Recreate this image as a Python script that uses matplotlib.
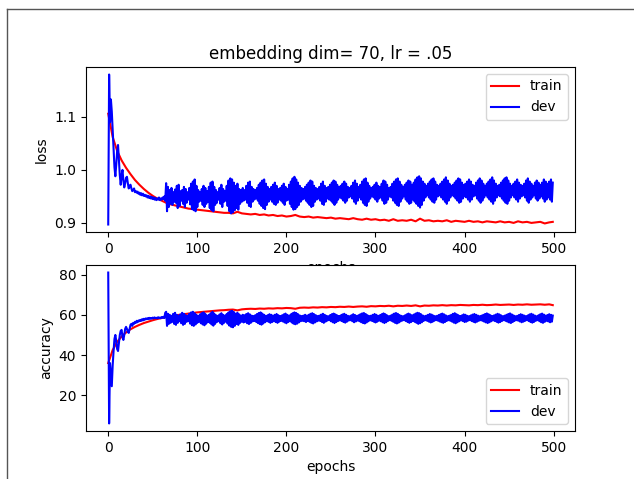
import matplotlib
matplotlib.use('Agg')
import matplotlib.pyplot as plt
from matplotlib.lines import Line2D

train_epochs = list(range(0, 500, 5)) + [499]
dev_epochs = list(range(0, 500))

train_loss = [
    1.106, 1.062, 1.036, 1.018, 1.004, 0.992, 0.981, 0.972, 0.964, 0.957,
    0.951, 0.946, 0.942, 0.938, 0.935, 0.933, 0.931, 0.929, 0.927, 0.926,
    0.925, 0.924, 0.923, 0.922, 0.921, 0.920, 0.919, 0.919, 0.918, 0.921,
    0.918, 0.917, 0.916, 0.917, 0.915, 0.916, 0.914, 0.915, 0.913, 0.914,
    0.912, 0.913, 0.915, 0.912, 0.911, 0.912, 0.910, 0.911, 0.910, 0.909,
    0.910, 0.908, 0.909, 0.908, 0.907, 0.909, 0.907, 0.906, 0.908, 0.906,
    0.907, 0.905, 0.906, 0.904, 0.907, 0.904, 0.905, 0.904, 0.906, 0.903,
    0.908, 0.904, 0.905, 0.903, 0.904, 0.903, 0.905, 0.902, 0.904, 0.903,
    0.902, 0.904, 0.902, 0.903, 0.901, 0.903, 0.902, 0.901, 0.903, 0.901,
    0.902, 0.900, 0.903, 0.901, 0.902, 0.900, 0.901, 0.902, 0.899, 0.901,
    0.902,
]

dev_loss = [
    # epochs 0-64
    0.897, 1.180, 1.090, 1.133, 1.110, 1.075, 1.040, 1.005, 0.988, 1.010,
    1.035, 1.047, 1.020, 0.990, 0.972, 0.990, 1.000, 0.980, 0.967, 0.975,
    0.985, 0.987, 0.975, 0.965, 0.970, 0.972, 0.965, 0.960, 0.962, 0.965,
    0.958, 0.960, 0.957, 0.959, 0.955, 0.957, 0.953, 0.956, 0.952, 0.955,
    0.951, 0.953, 0.950, 0.952, 0.948, 0.951, 0.947, 0.950, 0.946, 0.949,
    0.945, 0.948, 0.944, 0.947, 0.943, 0.946, 0.944, 0.948, 0.943, 0.946,
    0.944, 0.948, 0.945, 0.950, 0.942,
    # epochs 65-499
    0.975, 0.922, 0.968, 0.930, 0.962, 0.936, 0.966, 0.934, 0.958, 0.940,
    0.963, 0.938, 0.970, 0.928, 0.972, 0.932, 0.960, 0.942, 0.962, 0.936,
    0.968, 0.930, 0.964, 0.938, 0.958, 0.944, 0.966, 0.935, 0.974, 0.926,
    0.978, 0.924, 0.982, 0.922, 0.970, 0.930, 0.962, 0.940, 0.958, 0.942,
    0.964, 0.934, 0.970, 0.930, 0.966, 0.936, 0.960, 0.940, 0.968, 0.928,
    0.976, 0.924, 0.978, 0.922, 0.968, 0.934, 0.962, 0.938, 0.958, 0.944,
    0.966, 0.936, 0.972, 0.930, 0.964, 0.940, 0.960, 0.942, 0.970, 0.932,
    0.980, 0.922, 0.984, 0.918, 0.982, 0.920, 0.976, 0.924, 0.970, 0.928,
    0.974, 0.925, 0.964, 0.936, 0.962, 0.940, 0.966, 0.942, 0.962, 0.944,
    0.970, 0.938, 0.976, 0.932, 0.978, 0.930, 0.968, 0.940, 0.964, 0.944,
    0.962, 0.946, 0.966, 0.942, 0.972, 0.936, 0.976, 0.932, 0.980, 0.928,
    0.982, 0.926, 0.974, 0.934, 0.968, 0.940, 0.964, 0.944, 0.968, 0.940,
    0.972, 0.936, 0.976, 0.934, 0.970, 0.938, 0.964, 0.944, 0.966, 0.942,
    0.970, 0.938, 0.974, 0.934, 0.968, 0.942, 0.964, 0.944, 0.972, 0.936,
    0.978, 0.930, 0.984, 0.925, 0.987, 0.926, 0.982, 0.930, 0.976, 0.934,
    0.970, 0.940, 0.966, 0.944, 0.964, 0.946, 0.968, 0.942, 0.972, 0.938,
    0.976, 0.934, 0.980, 0.930, 0.978, 0.932, 0.970, 0.940, 0.966, 0.944,
    0.964, 0.946, 0.968, 0.942, 0.974, 0.936, 0.978, 0.934, 0.970, 0.940,
    0.966, 0.946, 0.968, 0.944, 0.972, 0.942, 0.976, 0.938, 0.980, 0.934,
    0.978, 0.938, 0.972, 0.944, 0.968, 0.948, 0.970, 0.946, 0.974, 0.942,
    0.978, 0.938, 0.974, 0.942, 0.968, 0.948, 0.966, 0.950, 0.970, 0.946,
    0.976, 0.940, 0.980, 0.936, 0.974, 0.942, 0.968, 0.948, 0.972, 0.944,
    0.978, 0.938, 0.982, 0.934, 0.984, 0.932, 0.976, 0.940, 0.970, 0.946,
    0.966, 0.950, 0.968, 0.948, 0.972, 0.944, 0.976, 0.940, 0.970, 0.946,
    0.968, 0.948, 0.974, 0.942, 0.980, 0.936, 0.978, 0.938, 0.972, 0.944,
    0.966, 0.950, 0.968, 0.948, 0.974, 0.942, 0.978, 0.938, 0.982, 0.934,
    0.984, 0.932, 0.978, 0.940, 0.972, 0.946, 0.968, 0.950, 0.972, 0.944,
    0.976, 0.940, 0.980, 0.936, 0.978, 0.938, 0.972, 0.944, 0.976, 0.940,
    0.982, 0.936, 0.986, 0.932, 0.988, 0.929, 0.984, 0.934, 0.978, 0.942,
    0.974, 0.948, 0.970, 0.952, 0.974, 0.948, 0.978, 0.944, 0.982, 0.940,
    0.984, 0.938, 0.978, 0.944, 0.972, 0.950, 0.970, 0.952, 0.974, 0.948,
    0.978, 0.944, 0.982, 0.940, 0.986, 0.936, 0.980, 0.942, 0.974, 0.948,
    0.970, 0.952, 0.972, 0.950, 0.976, 0.946, 0.980, 0.942, 0.984, 0.938,
    0.982, 0.940, 0.976, 0.946, 0.972, 0.950, 0.974, 0.948, 0.978, 0.944,
    0.982, 0.940, 0.978, 0.944, 0.972, 0.950, 0.970, 0.952, 0.976, 0.946,
    0.980, 0.942, 0.984, 0.938, 0.980, 0.942, 0.974, 0.948, 0.970, 0.952,
    0.974, 0.948, 0.978, 0.944, 0.982, 0.940, 0.986, 0.936, 0.980, 0.942,
    0.974, 0.948, 0.970, 0.952, 0.972, 0.950, 0.976, 0.946, 0.980, 0.942,
    0.984, 0.938, 0.986, 0.936, 0.980, 0.942, 0.974, 0.948, 0.970, 0.952,
    0.974, 0.948, 0.978, 0.944, 0.982, 0.940, 0.976, 0.946, 0.972, 0.950,
    0.970, 0.952, 0.974, 0.948, 0.980, 0.942, 0.984, 0.938, 0.978, 0.944,
    0.974, 0.948, 0.970, 0.952, 0.976, 0.946, 0.980, 0.942, 0.976, 0.946,
    0.972, 0.950, 0.976, 0.946, 0.982, 0.940, 0.978, 0.944, 0.974, 0.948,
    0.978, 0.944, 0.982, 0.940, 0.976,
]

train_acc = [
    36.0, 42.5, 46.5, 49.2, 51.2, 52.8, 54.0, 55.0, 55.9, 56.6,
    57.3, 57.9, 58.4, 58.9, 59.3, 59.7, 60.0, 60.3, 60.6, 60.9,
    61.2, 61.4, 61.6, 61.8, 62.0, 62.2, 62.3, 62.5, 62.6, 62.2,
    62.7, 62.9, 63.0, 62.9, 63.1, 63.0, 63.2, 63.1, 63.3, 63.2,
    63.4, 63.3, 63.0, 63.5, 63.6, 63.5, 63.7, 63.6, 63.8, 63.7,
    63.9, 63.8, 64.0, 63.9, 64.1, 63.9, 64.1, 64.2, 64.0, 64.3,
    64.2, 64.4, 64.3, 64.5, 64.2, 64.5, 64.4, 64.6, 64.4, 64.7,
    64.2, 64.6, 64.5, 64.7, 64.6, 64.8, 64.6, 64.8, 64.7, 64.9,
    64.8, 64.7, 64.9, 64.8, 65.0, 64.8, 64.9, 65.1, 64.9, 65.0,
    65.1, 64.9, 65.1, 65.0, 65.2, 65.0, 65.1, 65.2, 65.0, 65.2,
    64.8,
]

dev_acc = [
    # epochs 0-64
    81.0, 6.0, 36.0, 30.0, 24.5, 35.0, 42.0, 48.0, 50.0, 47.0,
    43.0, 42.0, 46.0, 50.0, 52.0, 52.5, 49.0, 47.5, 50.0, 53.0,
    54.0, 53.0, 51.5, 51.0, 53.0, 55.0, 55.5, 54.5, 56.0, 55.5,
    56.5, 56.0, 57.0, 56.3, 57.2, 56.8, 57.5, 57.0, 57.8, 57.2,
    58.0, 57.5, 58.2, 57.8, 58.3, 57.9, 58.5, 58.0, 58.4, 58.1,
    58.6, 58.2, 58.7, 58.3, 58.5, 58.2, 58.8, 58.4, 58.6, 58.3,
    58.9, 58.5, 59.0, 58.4, 61.0,
    # epochs 65-499
    61.5, 54.5, 60.5, 55.5, 60.0, 56.0, 59.5, 56.5, 60.5, 55.5,
    61.0, 55.0, 60.0, 56.0, 59.5, 56.8, 60.2, 55.8, 61.0, 55.0,
    60.5, 55.5, 59.8, 56.5, 59.5, 56.8, 60.5, 55.6, 61.2, 54.8,
    61.5, 54.5, 60.8, 55.2, 60.0, 56.0, 59.5, 56.6, 60.2, 55.8,
    60.8, 55.2, 61.2, 54.8, 60.4, 55.6, 59.6, 56.5, 60.0, 56.0,
    60.8, 55.2, 61.5, 54.6, 60.6, 55.5, 59.8, 56.4, 59.5, 56.8,
    60.2, 55.8, 60.8, 55.2, 60.0, 56.0, 59.6, 56.6, 60.4, 55.6,
    61.2, 54.6, 61.8, 54.0, 62.0, 53.8, 61.4, 54.5, 60.6, 55.4,
    61.0, 55.0, 60.2, 56.0, 59.6, 56.6, 60.0, 56.2, 59.8, 56.5,
    60.4, 55.8, 60.8, 55.4, 60.2, 56.0, 59.6, 56.7, 59.4, 56.9,
    59.8, 56.5, 60.4, 55.9, 60.9, 55.4, 61.2, 55.1, 60.6, 55.7,
    60.0, 56.3, 59.5, 56.8, 59.8, 56.5, 60.3, 56.0, 60.0, 56.4,
    59.6, 56.8, 60.0, 56.4, 60.4, 56.0, 59.8, 56.6, 59.4, 57.0,
    59.7, 56.7, 60.2, 56.2, 60.6, 55.8, 60.0, 56.4, 59.6, 56.8,
    60.2, 56.2, 60.8, 55.6, 61.2, 55.3, 60.9, 55.6, 60.3, 56.2,
    59.7, 56.8, 59.4, 57.0, 59.6, 56.8, 60.0, 56.4, 59.6, 56.9,
    60.0, 56.5, 60.5, 56.0, 60.8, 55.7, 60.3, 56.2, 59.8, 56.7,
    59.4, 57.1, 59.6, 56.9, 60.1, 56.4, 60.5, 56.0, 60.0, 56.6,
    59.5, 57.1, 59.3, 57.3, 59.8, 56.8, 60.3, 56.3, 60.6, 55.9,
    60.2, 56.4, 59.7, 56.9, 59.4, 57.2, 59.7, 56.9, 60.2, 56.4,
    60.5, 56.1, 60.0, 56.6, 59.5, 57.1, 59.3, 57.3, 59.8, 56.8,
    60.3, 56.3, 59.9, 56.7, 59.5, 57.1, 59.8, 56.8, 60.3, 56.3,
    60.7, 55.9, 60.9, 55.7, 60.4, 56.2, 59.8, 56.8, 59.4, 57.2,
    59.6, 57.0, 60.0, 56.6, 60.4, 56.2, 60.0, 56.6, 59.5, 57.1,
    59.8, 56.8, 60.3, 56.3, 60.7, 55.9, 60.3, 56.3, 59.7, 56.9,
    59.3, 57.3, 59.6, 57.0, 60.1, 56.5, 60.6, 56.0, 60.9, 55.7,
    60.5, 56.1, 59.9, 56.7, 59.5, 57.1, 59.3, 57.3, 59.7, 56.9,
    60.2, 56.4, 60.6, 56.0, 60.2, 56.4, 59.7, 56.9, 60.1, 56.5,
    60.6, 56.0, 61.0, 55.5, 60.8, 55.8, 60.3, 56.3, 59.7, 56.9,
    59.3, 57.3, 59.6, 57.0, 60.0, 56.6, 60.4, 56.2, 60.1, 56.5,
    59.6, 57.0, 59.3, 57.3, 59.5, 57.1, 59.9, 56.7, 60.3, 56.3,
    60.6, 56.0, 60.2, 56.4, 59.7, 56.9, 59.3, 57.3, 59.6, 57.0,
    60.0, 56.6, 60.5, 56.1, 60.8, 55.8, 60.3, 56.3, 59.8, 56.8,
    59.4, 57.2, 59.7, 56.9, 60.2, 56.4, 60.0, 56.6, 59.5, 57.1,
    59.3, 57.3, 59.7, 56.9, 60.1, 56.5, 60.4, 56.2, 60.0, 56.6,
    59.6, 57.0, 59.3, 57.3, 59.6, 57.0, 60.0, 56.6, 60.4, 56.2,
    60.7, 55.9, 60.3, 56.3, 59.8, 56.8, 59.4, 57.2, 59.7, 56.9,
    60.1, 56.5, 60.5, 56.1, 60.2, 56.4, 59.7, 56.9, 59.3, 57.3,
    59.6, 57.0, 60.0, 56.6, 60.4, 56.2, 60.7, 55.9, 60.2, 56.4,
    59.7, 56.9, 59.3, 57.3, 59.5, 57.1, 59.9, 56.7, 60.3, 56.3,
    60.0, 56.6, 59.6, 57.0, 59.3, 57.3, 59.7, 56.9, 60.2, 56.4,
    60.5, 56.1, 60.1, 56.5, 59.6, 57.0, 59.3, 57.3, 59.8, 56.8,
    60.3, 56.3, 60.6, 56.0, 60.1, 56.5, 59.6, 57.0, 59.9, 56.7,
    60.3, 56.3, 60.0, 56.6, 59.6,
]

W, H = 634, 479
fig = plt.figure(figsize=(W / 100, H / 100), dpi=100)

# window frame visible in the screenshot (left and top edges)
fig.add_artist(Line2D([7 / W, 7 / W], [0, 1 - 9 / H], color='#555555', lw=1))
fig.add_artist(Line2D([7 / W, 1], [1 - 9 / H, 1 - 9 / H], color='#555555', lw=1))

ax1 = fig.add_axes([86 / W, (H - 232) / H, 489 / W, 165 / H])
ax1.plot(train_epochs, train_loss, color='r', label='train')
ax1.plot(dev_epochs, dev_loss, color='b', label='dev')
ax1.set_title('embedding dim= 70, lr = .05')
ax1.set_ylabel('loss')
ax1.set_xlabel('epochs')
ax1.legend(loc='upper right')

ax2 = fig.add_axes([86 / W, (H - 431) / H, 489 / W, 166 / H])
ax2.plot(train_epochs, train_acc, color='r', label='train')
ax2.plot(dev_epochs, dev_acc, color='b', label='dev')
ax2.set_ylabel('accuracy')
ax2.set_xlabel('epochs')
ax2.legend(loc='lower right')

fig.savefig('out.png', dpi=100)
